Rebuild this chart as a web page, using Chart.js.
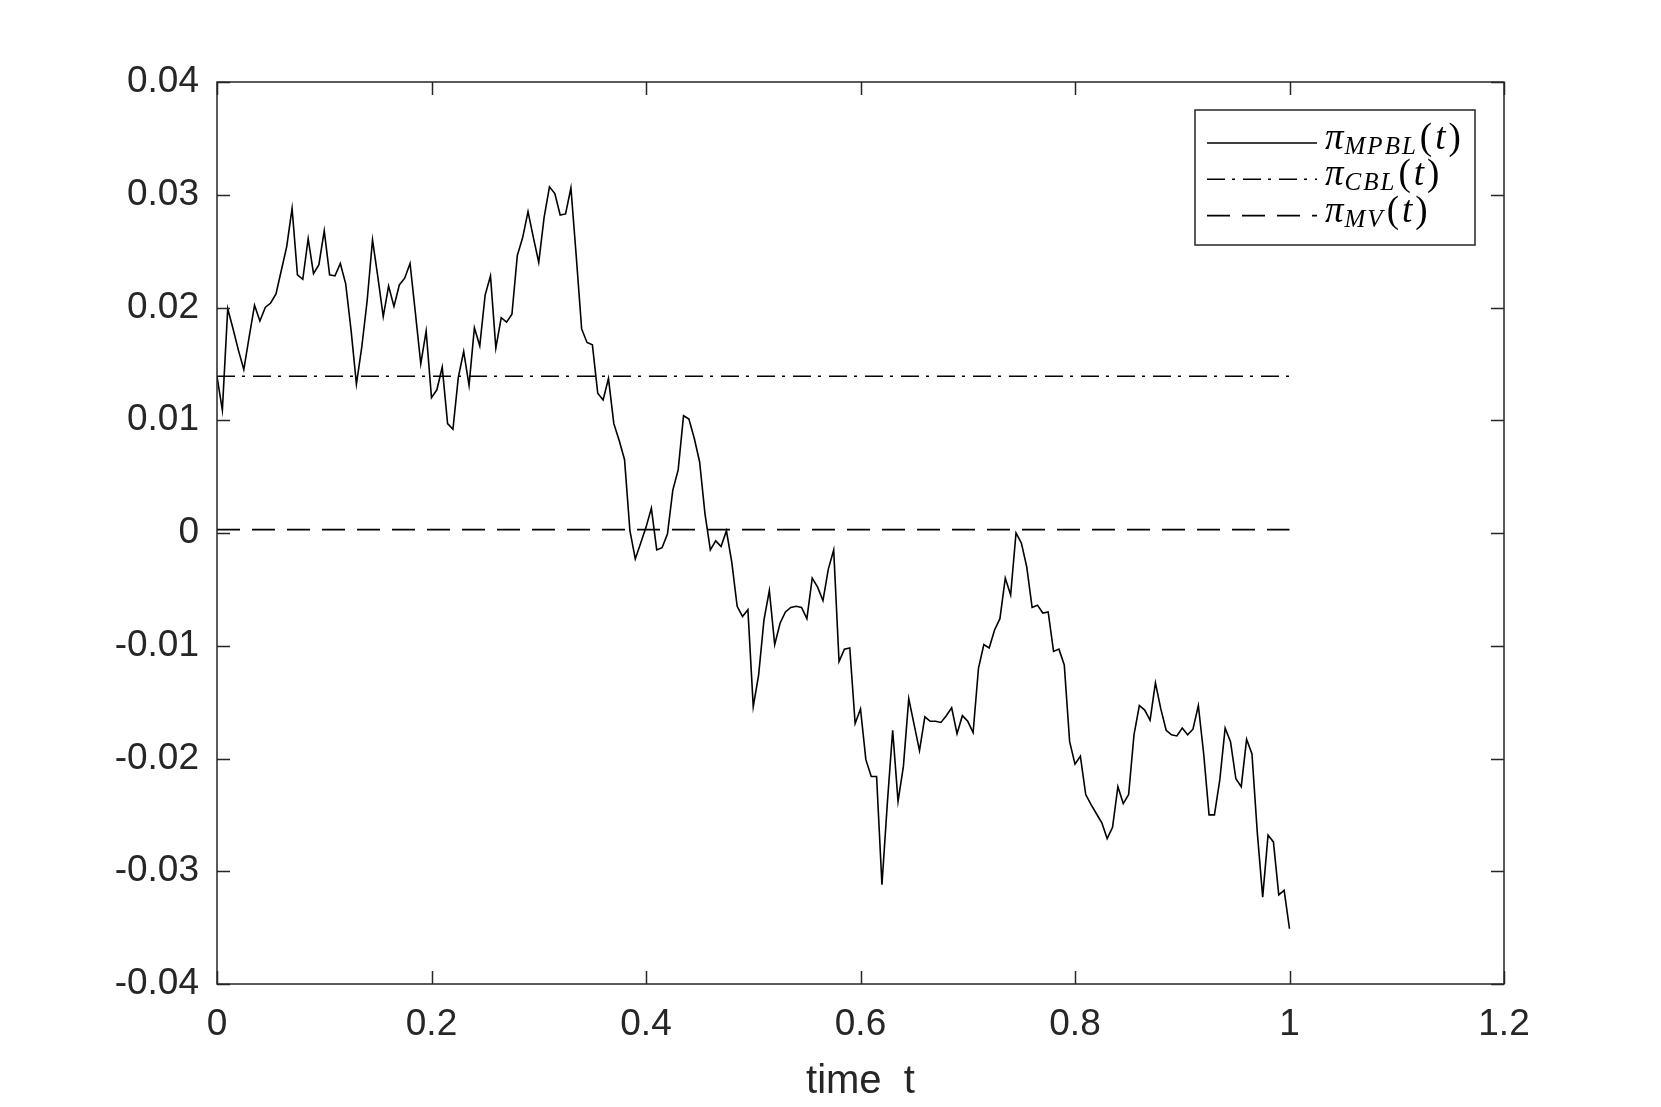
<!DOCTYPE html>
<html>
<head>
<meta charset="utf-8">
<script src="https://cdn.jsdelivr.net/npm/chart.js@4.4.1/dist/chart.umd.min.js"></script>
<style>
  html, body { margin: 0; padding: 0; background: #fff; }
  #wrap { width: 1661px; height: 1107px; }
</style>
</head>
<body>
<div id="wrap"><canvas id="chart1"></canvas></div>
<script>
// time grid: 200 steps on [0, 1]
const dt = 0.005
// pi_MPBL(t), one value per step
const piMPBL = [
  0.0139, 0.0109, 0.0199, 0.0181, 0.0162, 0.0145, 0.0174, 0.0202, 0.0188, 0.0200,
  0.0204, 0.0212, 0.0233, 0.0254, 0.0288, 0.0229, 0.0225, 0.0261, 0.0230, 0.0238,
  0.0268, 0.0229, 0.0228, 0.0239, 0.0221, 0.0180, 0.0132, 0.0165, 0.0206, 0.0260,
  0.0227, 0.0192, 0.0219, 0.0201, 0.0220, 0.0226, 0.0239, 0.0195, 0.0150, 0.0179,
  0.0120, 0.0127, 0.0147, 0.0097, 0.0092, 0.0138, 0.0161, 0.0131, 0.0182, 0.0166,
  0.0211, 0.0228, 0.0164, 0.0191, 0.0187, 0.0194, 0.0246, 0.0262, 0.0285, 0.0262,
  0.0240, 0.0280, 0.0307, 0.0301, 0.0282, 0.0283, 0.0306, 0.0245, 0.0181, 0.0169,
  0.0167, 0.0124, 0.0118, 0.0137, 0.0097, 0.0082, 0.0065, 0.0002, -0.0023, -0.0009,
  0.0005, 0.0022, -0.0015, -0.0013, -0.0001, 0.0038, 0.0056, 0.0104, 0.0101, 0.0084,
  0.0063, 0.0017, -0.0015, -0.0007, -0.0012, 0.0002, -0.0026, -0.0065, -0.0074, -0.0068,
  -0.0154, -0.0126, -0.0077, -0.0051, -0.0099, -0.0080, -0.0070, -0.0066, -0.0065, -0.0066,
  -0.0076, -0.0040, -0.0048, -0.0060, -0.0032, -0.0015, -0.0114, -0.0103, -0.0102, -0.0169,
  -0.0156, -0.0201, -0.0216, -0.0216, -0.0312, -0.0240, -0.0175, -0.0238, -0.0207, -0.0147,
  -0.0170, -0.0193, -0.0163, -0.0167, -0.0167, -0.0168, -0.0162, -0.0155, -0.0178, -0.0162,
  -0.0167, -0.0177, -0.0120, -0.0099, -0.0102, -0.0086, -0.0076, -0.0040, -0.0055, 0.0000,
  -0.0009, -0.0030, -0.0066, -0.0064, -0.0071, -0.0070, -0.0105, -0.0103, -0.0117, -0.0185,
  -0.0205, -0.0198, -0.0232, -0.0241, -0.0249, -0.0257, -0.0271, -0.0261, -0.0225, -0.0240,
  -0.0232, -0.0179, -0.0153, -0.0157, -0.0166, -0.0133, -0.0156, -0.0175, -0.0179, -0.0180,
  -0.0173, -0.0179, -0.0174, -0.0153, -0.0196, -0.0250, -0.0250, -0.0219, -0.0173, -0.0185,
  -0.0218, -0.0225, -0.0183, -0.0196, -0.0266, -0.0323, -0.0268, -0.0274, -0.0321, -0.0317,
  -0.0351
]
// constant strategies
const piCBL = 0.0139
const piMV = 0.0003
const constSpan = [0, 1]

const xTicks = [0, 0.2, 0.4, 0.6, 0.8, 1, 1.2]
const yTicks = [-0.04, -0.03, -0.02, -0.01, 0, 0.01, 0.02, 0.03, 0.04]

// legend: pi with subscript, then (t)
const legendSubs = ['MPBL', 'CBL', 'MV']

const axisColor = '#262626'
const tickFont = { family: '"Liberation Sans", Arial, sans-serif', size: 37 }

const ctx1 = document.querySelector('#chart1')

const mpblPoints = piMPBL.map((v, i) => ({ x: i * dt, y: v }))
const cblPoints = constSpan.map(t => ({ x: t, y: piCBL }))
const mvPoints = constSpan.map(t => ({ x: t, y: piMV }))

// box round the axes, with MATLAB-like inward ticks on every side
const frame = {
  id: 'frame',
  afterDatasetsDraw(chart) {
    const { ctx, chartArea: a, scales: { x, y } } = chart
    const len = 13
    ctx.save()
    ctx.strokeStyle = axisColor
    ctx.lineWidth = 1.5
    ctx.beginPath()
    xTicks.forEach(t => {
      const px = Math.round(x.getPixelForValue(t)) + 0.5
      ctx.moveTo(px, a.bottom); ctx.lineTo(px, a.bottom - len)
      ctx.moveTo(px, a.top); ctx.lineTo(px, a.top + len)
    })
    yTicks.forEach(t => {
      const py = Math.round(y.getPixelForValue(t)) + 0.5
      ctx.moveTo(a.left, py); ctx.lineTo(a.left + len, py)
      ctx.moveTo(a.right, py); ctx.lineTo(a.right - len, py)
    })
    ctx.stroke()
    ctx.strokeRect(a.left, a.top, a.right - a.left, a.bottom - a.top)
    // x axis title
    ctx.fillStyle = axisColor
    ctx.font = '40px "Liberation Sans", Arial, sans-serif'
    ctx.textAlign = 'center'
    ctx.textBaseline = 'alphabetic'
    ctx.fillText('time  t', (a.left + a.right) / 2, 1093)
    ctx.restore()
  }
}

// legend box drawn by hand so the labels can carry subscripts
const mathLegend = {
  id: 'mathLegend',
  afterDraw(chart) {
    const { ctx, chartArea: a } = chart
    const boxL = a.right - 309, boxT = a.top + 28, boxW = 280, boxH = 135
    ctx.save()
    ctx.fillStyle = '#fff'
    ctx.fillRect(boxL, boxT, boxW, boxH)
    ctx.strokeStyle = axisColor
    ctx.lineWidth = 1.5
    ctx.strokeRect(boxL, boxT, boxW, boxH)
    chart.data.datasets.forEach((ds, i) => {
      const cy = boxT + 33 + i * 36.3
      ctx.strokeStyle = ds.borderColor
      ctx.lineWidth = ds.borderWidth
      ctx.setLineDash(ds.borderDash || [])
      ctx.beginPath()
      ctx.moveTo(boxL + 12, cy)
      ctx.lineTo(boxL + 122, cy)
      ctx.stroke()
      ctx.setLineDash([])
      let tx = boxL + 130
      const base = cy + 6
      ctx.fillStyle = '#000'
      ctx.textBaseline = 'alphabetic'
      ctx.textAlign = 'left'
      ctx.font = 'italic 37px "Liberation Serif", serif'
      ctx.fillText('π', tx, base)
      tx += ctx.measureText('π').width + 1
      ctx.font = 'italic 25px "Liberation Serif", serif'
      ctx.letterSpacing = '2px'
      ctx.fillText(legendSubs[i], tx, base + 5)
      tx += ctx.measureText(legendSubs[i]).width + 2
      ctx.letterSpacing = '0px'
      ctx.font = '37px "Liberation Serif", serif'
      ctx.fillText('(', tx, base)
      tx += ctx.measureText('(').width + 3
      ctx.font = 'italic 37px "Liberation Serif", serif'
      ctx.fillText('t', tx, base)
      tx += ctx.measureText('t').width + 3
      ctx.font = '37px "Liberation Serif", serif'
      ctx.fillText(')', tx, base)
    })
    ctx.restore()
  }
}

let config = {
  type: 'line',
  data: {
    datasets: [
      {
        label: 'πMPBL(t)',
        data: mpblPoints,
        borderColor: '#000',
        borderWidth: 1.6,
        pointRadius: 0,
        tension: 0
      },
      {
        label: 'πCBL(t)',
        data: cblPoints,
        borderColor: '#000',
        borderWidth: 1.6,
        borderDash: [18, 7, 3, 8],
        pointRadius: 0
      },
      {
        label: 'πMV(t)',
        data: mvPoints,
        borderColor: '#000',
        borderWidth: 1.6,
        borderDash: [23, 12],
        pointRadius: 0
      }
    ]
  },
  options: {
    responsive: true,
    maintainAspectRatio: false,
    animation: false,
    layout: { padding: { top: 82, right: 157, left: 0, bottom: 0 } },
    plugins: {
      legend: { display: false },
      tooltip: { enabled: false }
    },
    scales: {
      x: {
        type: 'linear',
        min: 0,
        max: 1.2,
        afterFit: s => { s.height = 123 },
        afterBuildTicks: s => { s.ticks = xTicks.map(v => ({ value: v })) },
        grid: { display: false, drawTicks: false },
        border: { display: false },
        ticks: {
          padding: 19,
          color: axisColor,
          font: tickFont,
          maxRotation: 0,
          callback: v => Number(v.toFixed(1)).toString()
        }
      },
      y: {
        type: 'linear',
        min: -0.04,
        max: 0.04,
        afterFit: s => { s.width = 217 },
        afterBuildTicks: s => { s.ticks = yTicks.map(v => ({ value: v })) },
        grid: { display: false, drawTicks: false },
        border: { display: false },
        ticks: {
          padding: 18,
          color: axisColor,
          font: tickFont,
          callback: v => Number(v.toFixed(2)).toString()
        }
      }
    }
  },
  plugins: [frame, mathLegend]
}

let myChart = new Chart(ctx1, config)
</script>
</body>
</html>
